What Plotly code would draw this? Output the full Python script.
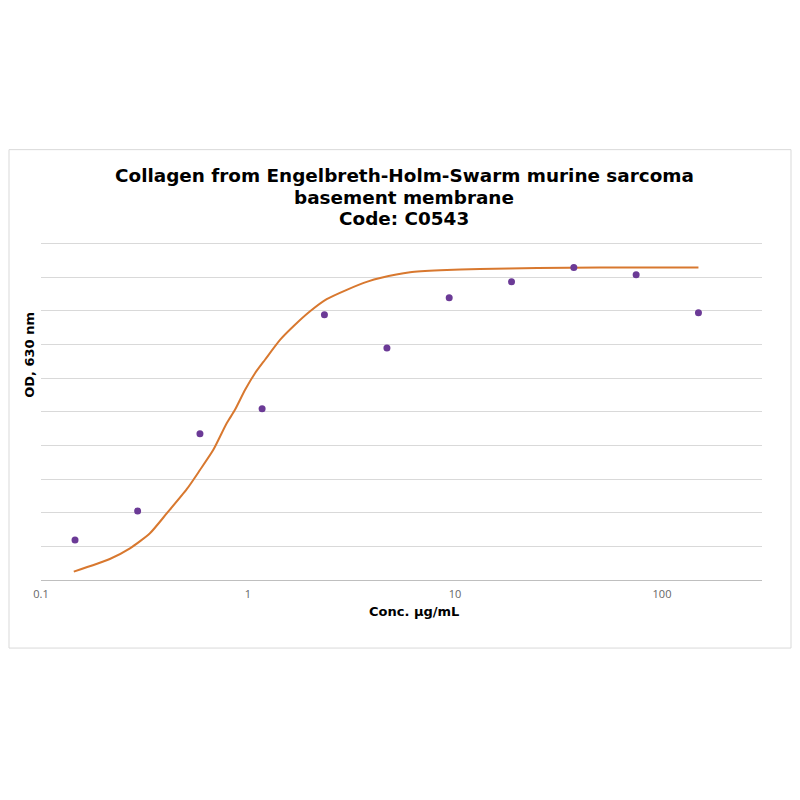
import plotly.graph_objects as go

# measured points
conc = [0.146, 0.293, 0.586, 1.17, 2.34, 4.69, 9.375, 18.75, 37.5, 75, 150]
od = [0.119, 0.205, 0.435, 0.509, 0.789, 0.690, 0.839, 0.887, 0.929, 0.908, 0.795]

# fitted curve
fit_x = [0.144, 0.215, 0.269, 0.336, 0.405, 0.506, 0.586, 0.68, 0.789, 0.865, 0.967,
         1.081, 1.208, 1.428, 1.687, 1.995, 2.40, 3.00, 3.81, 4.35, 6.07, 8.47, 13.2,
         25, 50, 100, 150]
fit_y = [0.025, 0.0625, 0.094, 0.139, 0.198, 0.270, 0.327, 0.387, 0.466, 0.506, 0.565,
         0.615, 0.655, 0.714, 0.759, 0.799, 0.835, 0.863, 0.888, 0.898, 0.915, 0.921, 0.925,
         0.928, 0.929, 0.929, 0.929]

title_lines = ['Collagen from Engelbreth-Holm-Swarm murine sarcoma',
               'basement membrane',
               'Code: C0543']

# page is drawn with an 8px body margin, so work in page pixels and shift
OFF = 8
FIG_W, FIG_H = 784, 784   # keeps the page free of scrollbars
Y_TOP = 1.02              # a little headroom so the 1.0 gridline is drawn
L, R, B = 41 - OFF, 762 - OFF, 580 - OFF
T = B - 336 * Y_TOP
W = R - L
H = B - T


def px(x):
    return (x - OFF - L) / W


def py(y):
    return (B - (y - OFF)) / H


fig = go.Figure()

fig.add_trace(go.Scatter(
    x=fit_x, y=fit_y, mode='lines', line_shape='spline',
    line=dict(color='#D8782F', width=2, smoothing=0.6), hoverinfo='skip'
))
fig.add_trace(go.Scatter(
    x=conc, y=od, mode='markers',
    marker=dict(color='#6B3A96', size=7)
))

annotations = []
for i, line in enumerate(title_lines):
    annotations.append(dict(
        text='<b>' + line + '</b>', xref='paper', yref='paper',
        x=px(404), y=py(176 + i * 21.5), xanchor='center', yanchor='middle',
        showarrow=False, font=dict(size=18.4, color='#000000')
    ))
annotations.append(dict(
    text='<b>Conc. µg/mL</b>', xref='paper', yref='paper',
    x=px(414), y=py(611), xanchor='center', yanchor='middle',
    showarrow=False, font=dict(size=13, color='#000000')
))
annotations.append(dict(
    text='<b>OD, 630 nm</b>', xref='paper', yref='paper',
    x=px(30), y=py(355), xanchor='center', yanchor='middle',
    textangle=-90, showarrow=False, font=dict(size=13, color='#000000')
))

fig.update_layout(
    width=FIG_W, height=FIG_H,
    margin=dict(l=L, r=FIG_W - R, t=T, b=FIG_H - B),
    paper_bgcolor='white', plot_bgcolor='white',
    showlegend=False,
    font=dict(family='DejaVu Sans', color='#000000'),
    xaxis=dict(
        type='log', range=[-1, -1 + W / 207],
        tickvals=[0.1, 1, 10, 100], ticktext=['0.1', '1', '10', '100'],
        tickfont=dict(size=11, color='#666666', family='Open Sans'),
        ticklabelstandoff=4,
        showgrid=False, zeroline=False,
        showline=True, linecolor='#BFBFBF', linewidth=1,
        ticks=''
    ),
    yaxis=dict(
        range=[0, Y_TOP], tick0=0, dtick=0.1,
        showticklabels=False,
        showgrid=True, gridcolor='#D9D9D9', gridwidth=1,
        zeroline=False, showline=False, ticks=''
    ),
    annotations=annotations,
    shapes=[
        dict(type='rect', xref='paper', yref='paper',
             x0=px(OFF + 1), x1=px(OFF + FIG_W - 1), y0=py(648), y1=py(150),
             line=dict(color='#D9D9D9', width=1), fillcolor='rgba(0,0,0,0)', layer='below')
    ]
)

fig.write_html("out.html")
